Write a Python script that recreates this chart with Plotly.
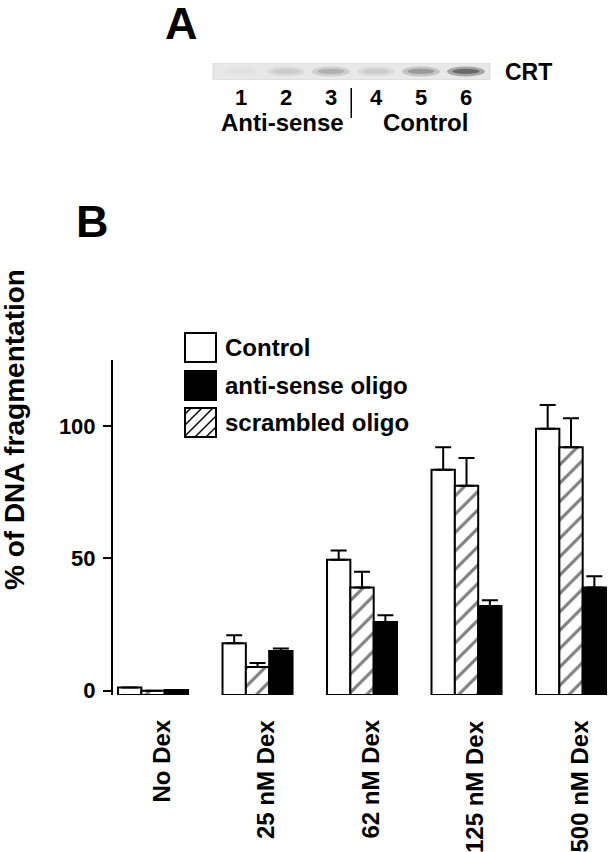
import plotly.graph_objects as go

# ---------------- data ----------------
categories = ["No Dex", "25 nM Dex", "62 nM Dex", "125 nM Dex", "500 nM Dex"]
control = [1.2, 18, 49.5, 83.5, 99]
control_err = [0, 3, 3.5, 8.5, 9]
scrambled = [0.0, 9, 39, 77.5, 92]
scrambled_err = [0, 1.5, 6, 10.5, 11]
antisense = [0.3, 15, 26, 32, 39]
antisense_err = [0, 1, 2.5, 2.2, 4.3]
y_ticks = [0, 50, 100]

lanes = [1, 2, 3, 4, 5, 6]
lane_labels = ["1", "2", "3", "4", "5", "6"]
band_intensity = [0.03, 0.15, 0.3, 0.15, 0.45, 0.8]
group_labels = ["Anti-sense", "Control"]
legend_names = ["Control", "anti-sense oligo", "scrambled oligo"]

# ---------------- layout helpers ----------------
W, H = 610, 852
ML, MR, MT, MB = 113, 0, 0, 157
PW, PH = W - ML - MR, H - MT - MB


def px(x):
    return (x - ML) / PW


def py(y):
    return (MT + PH - y) / PH


FONT = "Liberation Sans, Arial, Helvetica, sans-serif"
xs = list(range(len(categories)))
Y_MIN = -1.6

fig = go.Figure()


def add_bar(vals, errs, name, color, pattern=None):
    marker = dict(color=color, line=dict(color="black", width=2))
    if pattern:
        marker["pattern"] = pattern
    fig.add_trace(go.Bar(
        x=xs, y=[v - Y_MIN for v in vals], base=Y_MIN, name=name, marker=marker,
        error_y=dict(type="data", array=errs, arrayminus=[0] * len(errs), symmetric=False,
                     color="black", thickness=2, width=8),
        showlegend=False, hoverinfo="skip",
    ))


add_bar(control, control_err, legend_names[0], "white")
add_bar(scrambled, scrambled_err, legend_names[2], "white",
        dict(shape="/", size=13, solidity=0.24, fgcolor="black", bgcolor="white", fillmode="overlay"))
add_bar(antisense, antisense_err, legend_names[1], "black")

shapes = []
annotations = []

# x category labels (rotated)
for i, lab in enumerate(categories):
    annotations.append(dict(x=i, xref="x", y=py(718), yref="paper", text=lab, textangle=-90,
                            xanchor="center", yanchor="top", xshift=8, showarrow=False,
                            font=dict(family=FONT, size=24, color="black", weight="bold")))

# y title
annotations.append(dict(x=px(15), y=py(430), xref="paper", yref="paper",
                        text="% of DNA fragmentation", textangle=-90, showarrow=False,
                        xanchor="center", yanchor="middle",
                        font=dict(family=FONT, size=28, color="black", weight="bold")))

# panel letters
for letter, cx, cy in [("A", 181, 24), ("B", 92, 221)]:
    annotations.append(dict(x=px(cx), y=py(cy), xref="paper", yref="paper", text=letter,
                            showarrow=False, xanchor="center", yanchor="middle", borderpad=0,
                            font=dict(family=FONT, size=45, color="black", weight="bold")))

# legend
box_x0, box_x1 = 185, 216
row_tops = [333, 371, 408]
box_h = 29
fills = ["white", "black", "white"]
for name, top, fill in zip(legend_names, row_tops, fills):
    shapes.append(dict(type="rect", xref="paper", yref="paper", x0=px(box_x0), x1=px(box_x1),
                       y0=py(top + box_h), y1=py(top), fillcolor=fill,
                       line=dict(color="black", width=2)))
    annotations.append(dict(x=px(223), y=py(top + box_h / 2), xref="paper", yref="paper",
                            text=name, showarrow=False, xanchor="left", yanchor="middle",
                            font=dict(family=FONT, size=24, color="black", weight="bold")))
# hatch inside scrambled legend box
hy0, hy1 = row_tops[2], row_tops[2] + box_h
c = box_x0 + hy0 + 6
while c < box_x1 + hy1:
    xa = max(box_x0, c - hy1)
    xb = min(box_x1, c - hy0)
    if xb > xa:
        shapes.append(dict(type="line", xref="paper", yref="paper",
                           x0=px(xa), y0=py(c - xa), x1=px(xb), y1=py(c - xb),
                           line=dict(color="black", width=1.5)))
    c += 11

# ---------------- panel A (blot) ----------------
shapes.append(dict(type="rect", xref="x2", yref="y2", x0=lanes[0] - 0.62, x1=lanes[-1] + 0.53,
                   y0=0, y1=1, fillcolor="#e8e8e8", line=dict(color="#d6d6d6", width=1),
                   layer="below"))
for ln, k in zip(lanes, band_intensity):
    shapes.append(dict(type="circle", xref="x2", yref="y2", x0=ln - 0.42, x1=ln + 0.42,
                       y0=0.2, y1=0.8, fillcolor=f"rgba(70,70,70,{k * 0.5:.3f})",
                       line=dict(width=0)))
    shapes.append(dict(type="circle", xref="x2", yref="y2", x0=ln - 0.3, x1=ln + 0.3,
                       y0=0.36, y1=0.66, fillcolor=f"rgba(40,40,40,{k * 0.6:.3f})",
                       line=dict(width=0)))
shapes.append(dict(type="line", xref="x2", yref="paper", x0=3.45, x1=3.45,
                   y0=py(118), y1=py(88), line=dict(color="black", width=1.5)))
for lab, ln, sh in zip(group_labels, [2, 5], [-4, 4]):
    annotations.append(dict(x=ln, xref="x2", y=py(123), yref="paper", text=lab, xshift=sh,
                            showarrow=False, xanchor="center", yanchor="middle",
                            font=dict(family=FONT, size=24, color="black", weight="bold")))
annotations.append(dict(x=px(503), y=py(72), xref="paper", yref="paper", text="CRT",
                        showarrow=False, xanchor="left", yanchor="middle",
                        font=dict(family=FONT, size=23, color="black", weight="bold")))


def lane_val(p):
    return 1 + (p - 241) / 45


fig.update_layout(
    width=W, height=H,
    margin=dict(l=ML, r=MR, t=MT, b=MB, autoexpand=False),
    paper_bgcolor="white", plot_bgcolor="white",
    barmode="group", bargap=0.33, bargroupgap=0,
    showlegend=False,
    font=dict(family=FONT, color="black"),
    xaxis=dict(domain=[0, 1], range=[-0.383, 4.373], showticklabels=False, ticks="",
               showline=False, showgrid=False, zeroline=False, anchor="y", automargin=False),
    yaxis=dict(domain=[0, py(360)], range=[Y_MIN, 125], tickvals=y_ticks,
               ticks="outside", ticklen=8, tickwidth=2, tickcolor="black",
               showline=True, linecolor="black", linewidth=2, showgrid=False, zeroline=False,
               tickfont=dict(family=FONT, size=22, color="black", weight="bold"),
               ticklabelstandoff=3, automargin=False),
    xaxis2=dict(domain=[0, 1], anchor="y2", range=[lane_val(ML), lane_val(W)],
                tickvals=lanes, ticktext=lane_labels, ticks="", showline=False,
                showgrid=False, zeroline=False, automargin=False,
                tickfont=dict(family=FONT, size=22, color="black", weight="bold"),
                ticklabelstandoff=2),
    yaxis2=dict(domain=[py(80), py(63)], range=[0, 1], visible=False, anchor="x2"),
    shapes=shapes,
    annotations=annotations,
)

fig.write_html("out.html", config={"displayModeBar": False},
               post_script="document.body.style.margin='0px';")
